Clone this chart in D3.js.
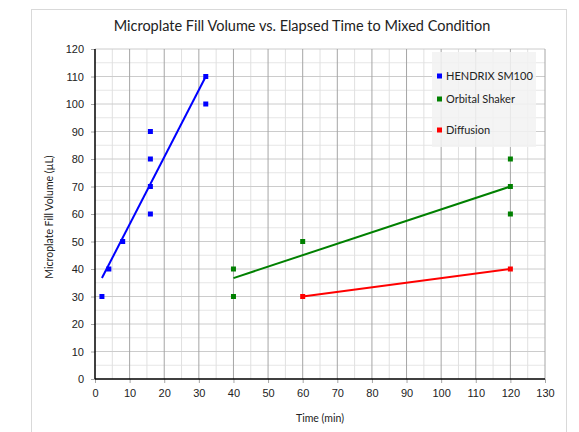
<!DOCTYPE html>
<html><head><meta charset="utf-8">
<script src="https://cdn.jsdelivr.net/npm/d3@7"></script>
<style>body{margin:0;background:#fff}svg{display:block}</style>
</head><body>
<svg id="c" width="579" height="432"></svg>
<script>
const seriesNames = ["HENDRIX SM100", "Orbital Shaker", "Diffusion"];
const seriesColors = ["#0000ff", "#008000", "#ff0000"];
const hendrixX = [2, 4, 8, 16, 16, 16, 16, 32, 32];
const hendrixY = [30, 40, 50, 60, 70, 80, 90, 100, 110];
const orbitalX = [40, 40, 60, 120, 120, 120];
const orbitalY = [30, 40, 50, 60, 70, 80];
const diffusionX = [60, 120];
const diffusionY = [30, 40];
// trend lines (endpoints)
const hendrixTrendX = [2, 32];
const hendrixTrendY = [36.7, 110];
const orbitalTrendX = [40, 120];
const orbitalTrendY = [36.7, 70];
const diffusionTrendX = [60, 120];
const diffusionTrendY = [30, 40];
const xTicks = [0,10,20,30,40,50,60,70,80,90,100,110,120,130];
const yTicks = [0,10,20,30,40,50,60,70,80,90,100,110,120];

const svg = d3.select("#c");
const L = 95, R = 545, T = 49, B = 379;
const x = d3.scaleLinear().domain([0,130]).range([L,R]);
const y = d3.scaleLinear().domain([0,120]).range([B,T]);

// outer frame
svg.append("rect").attr("x",31.5).attr("y",9.5).attr("width",535).attr("height",440)
  .attr("fill","#fff").attr("stroke","#d9d9d9");

// grid
const g = svg.append("g");
g.selectAll(".ymin").data(d3.range(5,120,10)).join("line")
  .attr("x1",L).attr("x2",R).attr("y1",d=>y(d)).attr("y2",d=>y(d))
  .attr("stroke","#e6e6e6").attr("stroke-width",1);
g.selectAll(".xmin").data(d3.range(5,130,10)).join("line")
  .attr("y1",T).attr("y2",B).attr("x1",d=>x(d)).attr("x2",d=>x(d))
  .attr("stroke","#e0e0e0").attr("stroke-width",1);
g.selectAll(".ymaj").data(yTicks.slice(1)).join("line")
  .attr("x1",L).attr("x2",R).attr("y1",d=>y(d)).attr("y2",d=>y(d))
  .attr("stroke","#cccccc").attr("stroke-width",1);
g.selectAll(".xmaj").data(xTicks.slice(1)).join("line")
  .attr("y1",T).attr("y2",B).attr("x1",d=>x(d)).attr("x2",d=>x(d))
  .attr("stroke","#a6a6a6").attr("stroke-width",1);

// axes
const xa = svg.append("g").attr("transform",`translate(0,${B})`)
  .call(d3.axisBottom(x).tickValues(xTicks).tickSize(4).tickPadding(6).tickFormat(d3.format("d")));
const ya = svg.append("g").attr("transform",`translate(${L},0)`)
  .call(d3.axisLeft(y).tickValues(yTicks).tickSize(4).tickPadding(7).tickFormat(d3.format("d")));
[xa,ya].forEach(a=>{
  a.select(".domain").remove();
  a.selectAll(".tick line").attr("stroke","#a6a6a6");
  a.selectAll("text").attr("font-family","'Liberation Sans', Arial, sans-serif").attr("font-size",11).attr("fill","#222");
});
svg.append("line").attr("x1",L).attr("x2",R).attr("y1",B).attr("y2",B).attr("stroke","#000").attr("stroke-width",1.5);
svg.append("line").attr("x1",L).attr("x2",L).attr("y1",T).attr("y2",B).attr("stroke","#000").attr("stroke-width",1.5);

// data
const series = [
  {xs:hendrixX, ys:hendrixY, tx:hendrixTrendX, ty:hendrixTrendY},
  {xs:orbitalX, ys:orbitalY, tx:orbitalTrendX, ty:orbitalTrendY},
  {xs:diffusionX, ys:diffusionY, tx:diffusionTrendX, ty:diffusionTrendY}
];
const line = d3.line().x(d=>x(d[0])).y(d=>y(d[1]));
series.forEach((s,i)=>{
  svg.append("path").datum(s.tx.map((v,j)=>[v,s.ty[j]])).attr("d",line)
    .attr("fill","none").attr("stroke",seriesColors[i]).attr("stroke-width",2);
  svg.append("g").selectAll("rect").data(s.xs.map((v,j)=>[v,s.ys[j]])).join("rect")
    .attr("x",d=>x(d[0])-2.5).attr("y",d=>y(d[1])-2.5).attr("width",5).attr("height",5)
    .attr("fill",seriesColors[i]);
});

// legend
svg.append("rect").attr("x",432).attr("y",52).attr("width",104).attr("height",95).attr("fill","#f2f2f2").attr("opacity",0.85);
const legY = [76, 99, 130];
seriesNames.forEach((n,i)=>{
  svg.append("rect").attr("x",437).attr("y",legY[i]-2.5).attr("width",5).attr("height",5).attr("fill",seriesColors[i]);
  svg.append("text").attr("x",446).attr("y",legY[i]+4).text(n)
    .attr("font-family","Lato, 'Open Sans', sans-serif").attr("font-size",11).attr("fill","#222");
});

// titles
svg.append("text").attr("x",302).attr("y",31).attr("text-anchor","middle")
  .attr("font-family","Lato, 'Open Sans', sans-serif").attr("font-size",14.5).attr("fill","#222")
  .text("Microplate Fill Volume vs. Elapsed Time to Mixed Condition");
svg.append("text").attr("x",320).attr("y",422).attr("text-anchor","middle")
  .attr("font-family","Lato, 'Open Sans', sans-serif").attr("font-size",10.5).attr("fill","#222")
  .text("Time (min)");
svg.append("text").attr("transform","translate(53,217) rotate(-90)").attr("text-anchor","middle")
  .attr("font-family","Lato, 'Open Sans', sans-serif").attr("font-size",10.5).attr("fill","#222")
  .text("Microplate Fill Volume (µL)");
</script>
</body></html>
